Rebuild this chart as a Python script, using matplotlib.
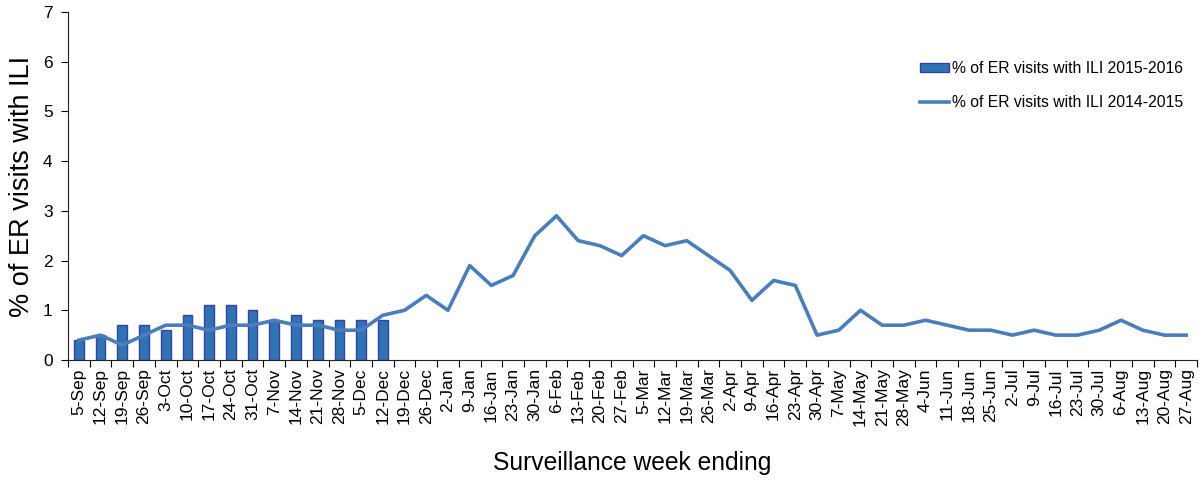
import matplotlib
matplotlib.use("Agg")
import matplotlib.pyplot as plt
from matplotlib.ticker import FixedLocator, NullFormatter

plt.rcParams['font.family'] = ['Liberation Sans', 'DejaVu Sans']

weeks = ["5-Sep", "12-Sep", "19-Sep", "26-Sep", "3-Oct", "10-Oct", "17-Oct", "24-Oct", "31-Oct",
         "7-Nov", "14-Nov", "21-Nov", "28-Nov", "5-Dec", "12-Dec", "19-Dec", "26-Dec", "2-Jan",
         "9-Jan", "16-Jan", "23-Jan", "30-Jan", "6-Feb", "13-Feb", "20-Feb", "27-Feb", "5-Mar",
         "12-Mar", "19-Mar", "26-Mar", "2-Apr", "9-Apr", "16-Apr", "23-Apr", "30-Apr", "7-May",
         "14-May", "21-May", "28-May", "4-Jun", "11-Jun", "18-Jun", "25-Jun", "2-Jul", "9-Jul",
         "16-Jul", "23-Jul", "30-Jul", "6-Aug", "13-Aug", "20-Aug", "27-Aug"]

ili_2015_2016 = [0.4, 0.5, 0.7, 0.7, 0.6, 0.9, 1.1, 1.1, 1.0, 0.8, 0.9, 0.8, 0.8, 0.8, 0.8]

ili_2014_2015 = [0.4, 0.5, 0.3, 0.5, 0.7, 0.7, 0.6, 0.7, 0.7, 0.8, 0.7, 0.7, 0.6, 0.6, 0.9,
                 1.0, 1.3, 1.0, 1.9, 1.5, 1.7, 2.5, 2.9, 2.4, 2.3, 2.1, 2.5, 2.3, 2.4, 2.1,
                 1.8, 1.2, 1.6, 1.5, 0.5, 0.6, 1.0, 0.7, 0.7, 0.8, 0.7, 0.6, 0.6, 0.5, 0.6,
                 0.5, 0.5, 0.6, 0.8, 0.6, 0.5, 0.5]

fig = plt.figure(figsize=(11.99, 4.88), dpi=100)
ax = fig.add_axes([68/1199, 128/488, 1129/1199, 348/488])

x_bar = list(range(len(ili_2015_2016)))
x_line = list(range(len(ili_2014_2015)))

bars = ax.bar(x_bar, ili_2015_2016, width=0.45, color='#2E74B5', edgecolor='#3B3F9E',
              linewidth=1.0, label='% of ER visits with ILI 2015-2016', zorder=2)
line, = ax.plot(x_line, ili_2014_2015, color='#4A7EBB', linewidth=2.6,
                label='% of ER visits with ILI 2014-2015', zorder=3)

ax.set_xlim(-0.5, len(weeks) - 0.5)
ax.set_ylim(0, 7)
ax.set_yticks(range(0, 8))
ax.tick_params(axis='y', labelsize=12.5, direction='out', length=5, width=0.8, pad=6)

ax.set_xticks(range(len(weeks)))
ax.set_xticklabels(weeks, rotation=90, fontsize=12.5)
ax.tick_params(axis='x', which='major', length=0, pad=6)
ax.xaxis.set_minor_locator(FixedLocator([i - 0.5 for i in range(len(weeks) + 1)]))
ax.xaxis.set_minor_formatter(NullFormatter())
ax.tick_params(axis='x', which='minor', length=5, width=0.8, direction='out')

for s in ['top', 'right']:
    ax.spines[s].set_visible(False)
for s in ['left', 'bottom']:
    ax.spines[s].set_linewidth(0.8)
    ax.spines[s].set_color('#222222')

ax.set_ylabel('% of ER visits with ILI', fontsize=19.5, labelpad=6)
ax.set_xlabel('Surveillance week ending', fontsize=17.7, labelpad=18)

leg = ax.legend([bars, line], [bars.get_label(), line.get_label()],
                loc='upper right', bbox_to_anchor=(1.0, 0.9), frameon=False, fontsize=11.3,
                handlelength=1.9, handleheight=0.5, labelspacing=1.2, handletextpad=0.15)

fig.savefig('out.png', dpi=100)
